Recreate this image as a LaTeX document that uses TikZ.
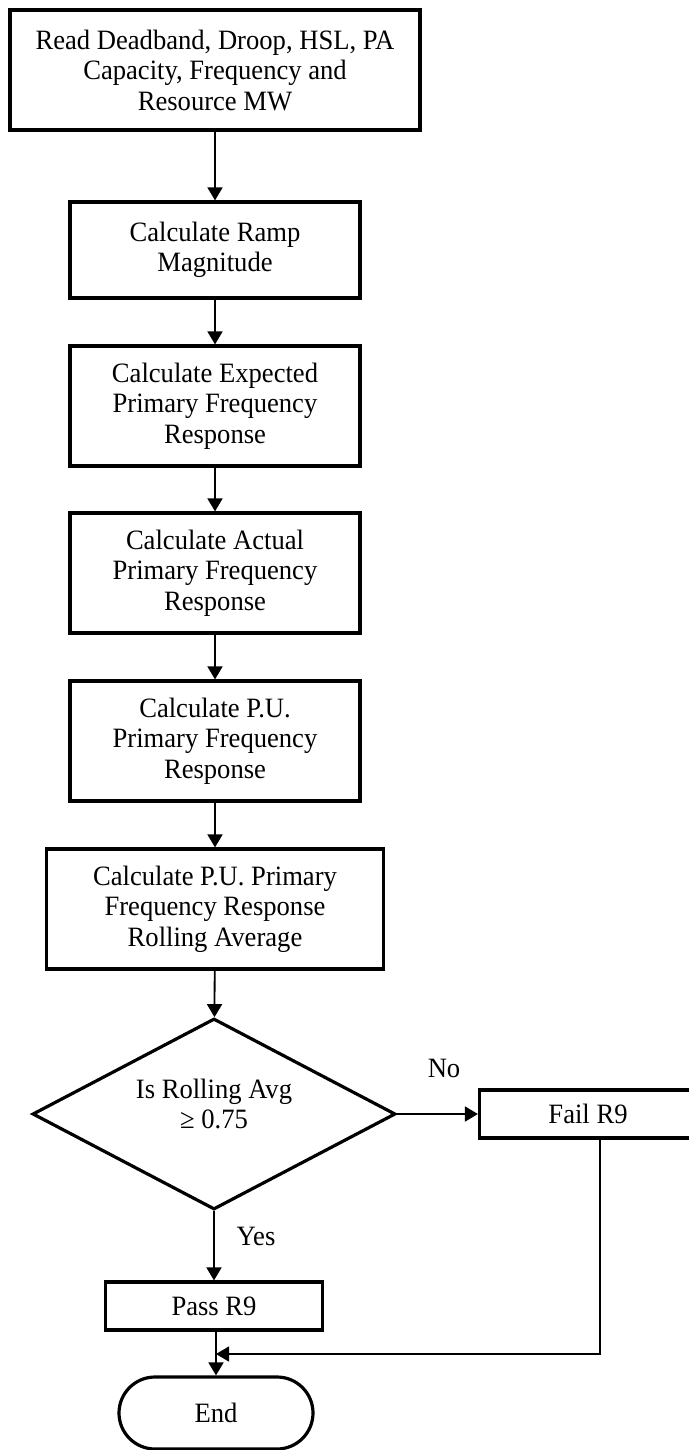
\documentclass[tikz,border=0pt]{standalone}
\usepackage{fontspec}
\setmainfont{Liberation Serif}[FakeStretch=0.95]
\usetikzlibrary{arrows.meta,shapes.geometric}
\tikzset{
  txt/.style={font=\fontsize{28}{30.5}\selectfont,align=center,inner sep=0pt},
  procbox/.style={txt,draw,line width=3.2pt},
  decbox/.style={txt,draw,diamond,line width=3.2pt},
  endbox/.style={txt,draw,line width=3.2pt,rounded corners=36pt},
  flow/.style={line width=1.8pt,-{Triangle[length=13pt,width=15pt]}},
}

\begin{document}
\begin{tikzpicture}[x=1pt,y=-1pt]
\useasboundingbox (0,0) rectangle (688,1450);
\node[procbox,minimum width=410pt,minimum height=120pt](read)at(215,70){Read Deadband, Droop, HSL, PA\\Capacity, Frequency and\\Resource MW};
\node[procbox,minimum width=290pt,minimum height=96pt](ramp)at(215,250){Calculate Ramp\\Magnitude};
\node[procbox,minimum width=290pt,minimum height=120pt](expd)at(215,406){Calculate Expected\\Primary Frequency\\Response};
\node[procbox,minimum width=290pt,minimum height=120pt](actl)at(215,573){Calculate Actual\\Primary Frequency\\Response};
\node[procbox,minimum width=290pt,minimum height=120pt](pu)at(215,741){Calculate P.U.\\Primary Frequency\\Response};
\node[procbox,minimum width=337pt,minimum height=120pt](avg)at(215,909){Calculate P.U. Primary\\Frequency Response\\Rolling Average};
\node[decbox,minimum width=363pt,minimum height=191pt,label={[txt,yshift=10pt]center:Is Rolling Avg\\≥ 0.75}](dec)at(214,1114){};
\node[procbox,minimum width=217pt,minimum height=48pt](fail)at(588,1114){Fail R9};
\node[procbox,minimum width=217pt,minimum height=48pt](pass)at(214,1306){Pass R9};
\node[endbox,minimum width=194pt,minimum height=72pt](end)at(216,1413){End};
\node[txt](no)at(444,1068){No};
\node[txt](yes)at(256,1236){Yes};
\coordinate(merge)at(216,1354);

\draw[flow] (read)--(ramp);
\draw[flow] (ramp)--(expd);
\draw[flow] (expd)--(actl);
\draw[flow] (actl)--(pu);
\draw[flow] (pu)--(avg);
\draw[flow] (avg)--(dec);
\draw[flow] (dec)--(fail);
\draw[flow] (dec)--(pass);
\draw[flow] (pass.south -| end)--(end);
\draw[flow,line width=1.4pt] ([xshift=12pt]fail.south)|-(merge);
\end{tikzpicture}
\end{document}
